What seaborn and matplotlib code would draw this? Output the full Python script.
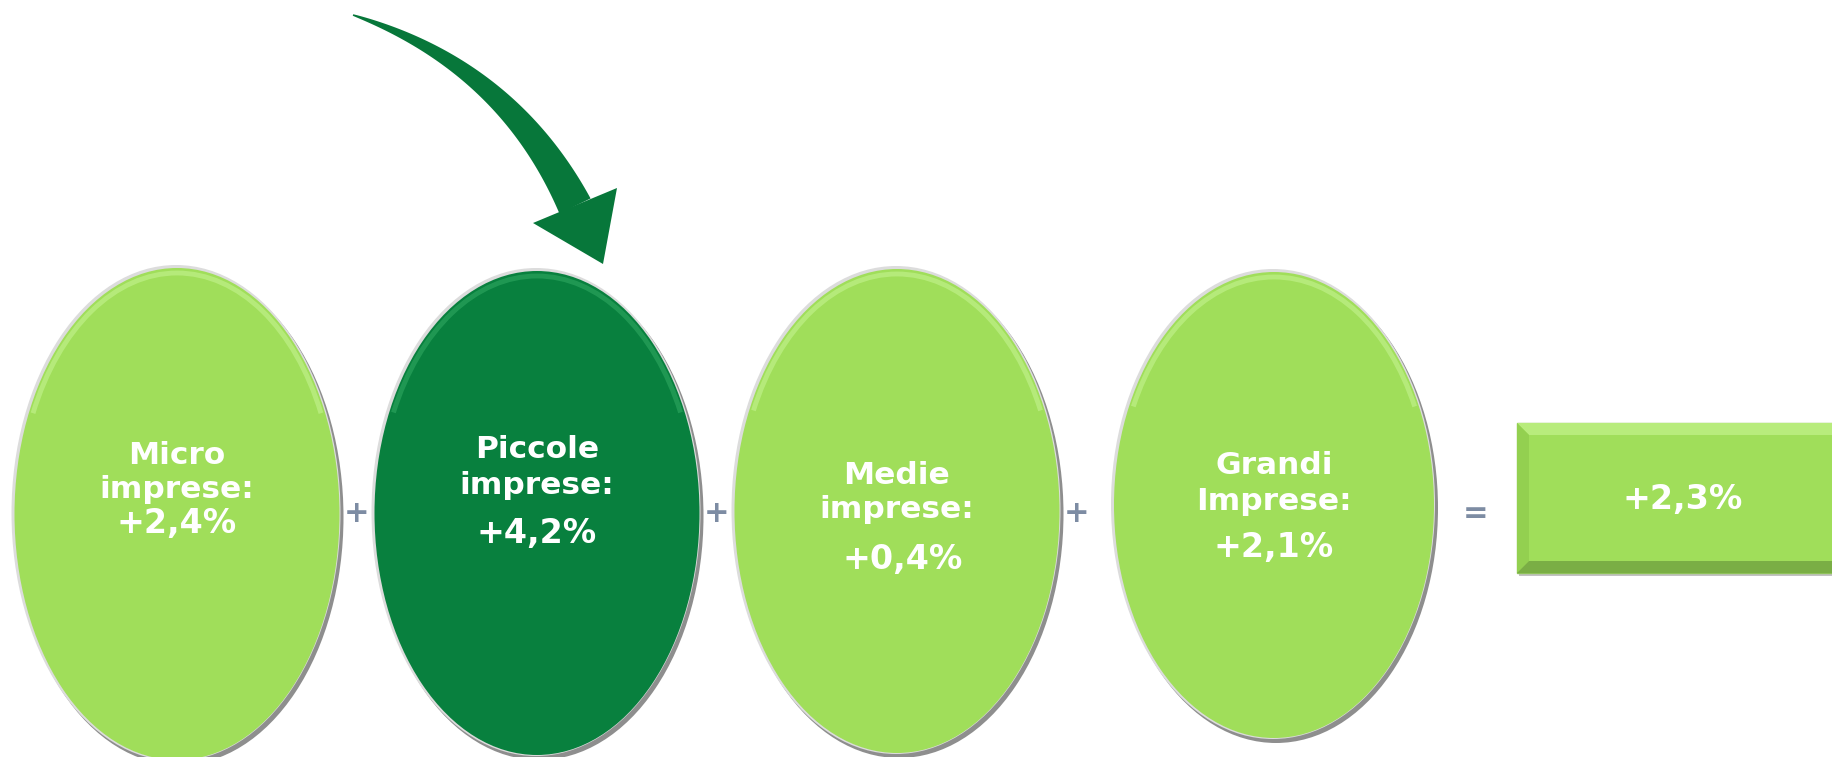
import numpy as np
import matplotlib
matplotlib.use("Agg")
import matplotlib.pyplot as plt
from matplotlib.patches import Ellipse, Arc, Rectangle, Polygon
import seaborn as sns

# ---------------- data ----------------
categories = ["Micro\nimprese:", "Piccole\nimprese:", "Medie\nimprese:", "Grandi\nImprese:"]
values = [2.4, 4.2, 0.4, 2.1]
total_value = 2.3
highlight = "Piccole\nimprese:"

# ---------------- layout / style ----------------
sns.set_theme(style="white")
plt.rcParams['font.family'] = ['DejaVu Sans']

LIGHT = "#A0DE5A"
DARK = "#08803E"
LIGHT_RIM = "#BDEF85"
DARK_RIM = "#27A05A"
ARROW = "#07773A"
SIGN = "#7D8CA3"

centers_x = [177, 537, 897, 1274]
centers_y = [514, 513, 511, 505]
widths = [325, 325, 325, 320]
heights = [492, 484, 484, 466]
name_y = [(455, 489), (450, 486), (475, 509), (465, 501)]
value_y = [523, 534, 560, 548]
value_dx = [0, 0, 6, 0]
plus_x = [357, 717, 1077]
sign_y = 514
eq_x = 1476
box = dict(x0=1517, y0=423, x1=1850, y1=573)
FS_NAME = 22.5
FS_VAL = 24


def fmt(v):
    return ("+" if v >= 0 else "") + f"{v:.1f}".replace(".", ",") + "%"


fig = plt.figure(figsize=(18.32, 7.57), dpi=100)
ax = fig.add_axes([0, 0, 1, 1])
ax.set_xlim(0, 1832)
ax.set_ylim(757, 0)
ax.axis("off")

# ---------------- ellipses ----------------
for i, (cat, val) in enumerate(zip(categories, values)):
    cx, cy, w, h = centers_x[i], centers_y[i], widths[i], heights[i]
    face = DARK if cat == highlight else LIGHT
    rim = DARK_RIM if cat == highlight else LIGHT_RIM
    ax.add_patch(Ellipse((cx + 2, cy + 3), w + 4, h + 4, facecolor="#7a7a7a",
                         edgecolor="none", alpha=0.85, zorder=1))
    ax.add_patch(Ellipse((cx - 1, cy - 1), w + 4, h + 4, facecolor="#dcdcdc",
                         edgecolor="none", zorder=1.5))
    ax.add_patch(Ellipse((cx, cy), w, h, facecolor=face, edgecolor="none", zorder=2))
    ax.add_patch(Arc((cx, cy), w - 8, h - 10, theta1=215, theta2=325,
                     color=rim, lw=3.5, alpha=0.75, zorder=3))
    l1, l2 = cat.split("\n")
    ax.text(cx, name_y[i][0], l1, ha="center", va="center", color="white",
            fontsize=FS_NAME, fontweight="bold", zorder=5)
    ax.text(cx, name_y[i][1], l2, ha="center", va="center", color="white",
            fontsize=FS_NAME, fontweight="bold", zorder=5)
    ax.text(cx + value_dx[i], value_y[i], fmt(val), ha="center", va="center",
            color="white", fontsize=FS_VAL, fontweight="bold", zorder=5)

# ---------------- plus / equals signs ----------------
for px in plus_x:
    ax.text(px, sign_y, "+", ha="center", va="center", color=SIGN,
            fontsize=22, fontweight="bold", zorder=6)
ax.text(eq_x, sign_y, "=", ha="center", va="center", color=SIGN,
        fontsize=22, fontweight="bold", zorder=6)

# ---------------- total box ----------------
x0, y0, x1, y1 = box["x0"], box["y0"], box["x1"], box["y1"]
b = 12
ax.add_patch(Rectangle((x0 + 2, y0 + 3), x1 - x0, y1 - y0, facecolor="#9a9a9a",
                       edgecolor="none", alpha=0.6, zorder=1))
ax.add_patch(Rectangle((x0, y0), x1 - x0, y1 - y0, facecolor=LIGHT,
                       edgecolor="#8fc25a", lw=1, zorder=2))
ax.add_patch(Polygon([(x0, y0), (x1, y0), (x1, y0 + b), (x0 + b, y0 + b)],
                     closed=True, facecolor="#B8EC7C", edgecolor="none", zorder=3))
ax.add_patch(Polygon([(x0, y0), (x0 + b, y0 + b), (x0 + b, y1 - b), (x0, y1)],
                     closed=True, facecolor="#93D050", edgecolor="none", zorder=3))
ax.add_patch(Polygon([(x0, y1), (x0 + b, y1 - b), (x1, y1 - b), (x1, y1)],
                     closed=True, facecolor="#7AAE45", edgecolor="none", zorder=3))
ax.text((x0 + 1832) / 2 + 8, 500, fmt(total_value), ha="center", va="center",
        color="white", fontsize=FS_VAL, fontweight="bold", zorder=5)

# ---------------- curved arrow ----------------
P0 = np.array([353.0, 15.0])
P1 = np.array([507.0, 66.0])
P2 = np.array([575.0, 206.0])
t = np.linspace(0, 1, 80)[:, None]
pts = (1 - t) ** 2 * P0 + 2 * (1 - t) * t * P1 + t ** 2 * P2
der = 2 * (1 - t) * (P1 - P0) + 2 * t * (P2 - P1)
der /= np.linalg.norm(der, axis=1, keepdims=True)
nrm = np.column_stack([-der[:, 1], der[:, 0]])
hw = (0.8 + 16.5 * t[:, 0] ** 0.9)[:, None]
left = pts + nrm * hw
right = pts - nrm * hw
shaft = np.vstack([left, right[::-1]])
ax.add_patch(Polygon(shaft, closed=True, facecolor=ARROW, edgecolor="none", zorder=4))
ax.add_patch(Polygon([(533, 223), (617, 188), (603, 264)], closed=True,
                     facecolor=ARROW, edgecolor="none", zorder=4))

fig.savefig("out.png", dpi=100, facecolor="white")
